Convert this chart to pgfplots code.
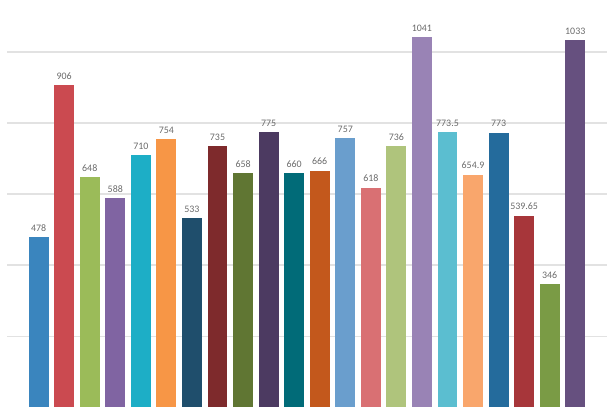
\documentclass[border=0pt]{standalone}
\usepackage{fontspec}
\setmainfont{Carlito}
\usepackage{pgfplots}
\pgfplotsset{compat=1.18}

\definecolor{c1}{HTML}{3A85BE}
\definecolor{c2}{HTML}{CB4A50}
\definecolor{c3}{HTML}{9BBB59}
\definecolor{c4}{HTML}{8064A2}
\definecolor{c5}{HTML}{1DAEC6}
\definecolor{c6}{HTML}{F79646}
\definecolor{c7}{HTML}{1F4E6C}
\definecolor{c8}{HTML}{7E2A2C}
\definecolor{c9}{HTML}{607633}
\definecolor{c10}{HTML}{4C3A61}
\definecolor{c11}{HTML}{016B78}
\definecolor{c12}{HTML}{C3581C}
\definecolor{c13}{HTML}{6A9ECD}
\definecolor{c14}{HTML}{D97073}
\definecolor{c15}{HTML}{AFC47C}
\definecolor{c16}{HTML}{9983B5}
\definecolor{c17}{HTML}{5BBED0}
\definecolor{c18}{HTML}{F9A66C}
\definecolor{c19}{HTML}{246B9C}
\definecolor{c20}{HTML}{A7363A}
\definecolor{c21}{HTML}{7A9B45}
\definecolor{c22}{HTML}{66507F}
\definecolor{lbl}{HTML}{6A6A6A}
\definecolor{grd}{HTML}{E2E2E2}

\begin{document}
\begin{tikzpicture}[x=1pt,y=1pt]
\begin{axis}[
    at={(0pt,0pt)}, anchor=south west,
    scale only axis,
    width=604pt, height=410pt,
    ybar, bar width=0.78, bar shift=0pt,
    xmin=-1.245, xmax=22.245,
    ymin=0, ymax=1146,
    ytick={200,400,600,800,1000},
    yticklabels={}, xtick=\empty,
    ymajorgrids,
    grid style={grd, line width=1.5pt},
    axis line style={draw=none},
    tick style={draw=none},
    nodes near coords,
    point meta=explicit symbolic,
    every node near coord/.append style={font=\fontsize{10}{11}\selectfont, text=lbl, inner sep=3pt, yshift=2.5pt},
    clip=false,
]
\addplot[fill=c1, draw=none] coordinates {(0,478) [478]};
\addplot[fill=c2, draw=none] coordinates {(1,906) [906]};
\addplot[fill=c3, draw=none] coordinates {(2,648) [648]};
\addplot[fill=c4, draw=none] coordinates {(3,588) [588]};
\addplot[fill=c5, draw=none] coordinates {(4,710) [710]};
\addplot[fill=c6, draw=none] coordinates {(5,754) [754]};
\addplot[fill=c7, draw=none] coordinates {(6,533) [533]};
\addplot[fill=c8, draw=none] coordinates {(7,735) [735]};
\addplot[fill=c9, draw=none] coordinates {(8,658) [658]};
\addplot[fill=c10, draw=none] coordinates {(9,775) [775]};
\addplot[fill=c11, draw=none] coordinates {(10,660) [660]};
\addplot[fill=c12, draw=none] coordinates {(11,666) [666]};
\addplot[fill=c13, draw=none] coordinates {(12,757) [757]};
\addplot[fill=c14, draw=none] coordinates {(13,618) [618]};
\addplot[fill=c15, draw=none] coordinates {(14,736) [736]};
\addplot[fill=c16, draw=none] coordinates {(15,1041) [1041]};
\addplot[fill=c17, draw=none] coordinates {(16,773.5) [773.5]};
\addplot[fill=c18, draw=none] coordinates {(17,654.9) [654.9]};
\addplot[fill=c19, draw=none] coordinates {(18,773) [773]};
\addplot[fill=c20, draw=none] coordinates {(19,539.65) [539.65]};
\addplot[fill=c21, draw=none] coordinates {(20,346) [346]};
\addplot[fill=c22, draw=none] coordinates {(21,1033) [1033]};
\end{axis}
\path (-3pt,0pt) rectangle (612pt,410pt);
\end{tikzpicture}
\end{document}
